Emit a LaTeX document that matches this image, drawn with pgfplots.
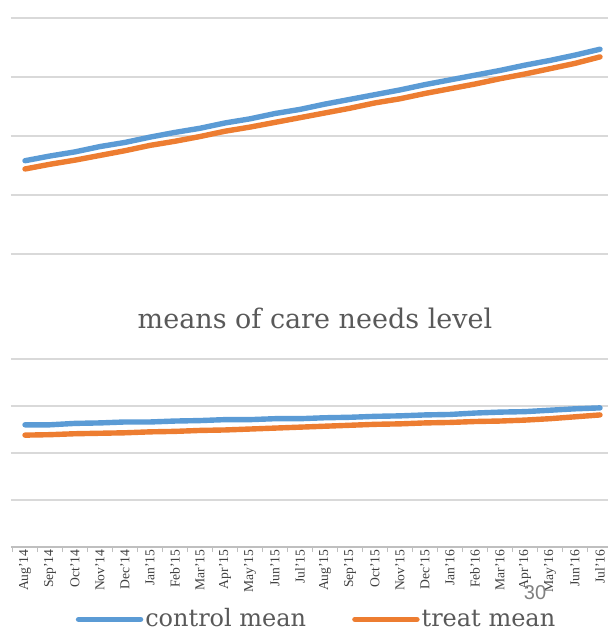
\documentclass[border=0pt]{standalone}
\usepackage{fontspec}
\setmainfont{Liberation Serif}
\newfontfamily\titlefont{DejaVu Serif}
\newfontfamily\numfont{Liberation Sans}
\usepackage{pgfplots}
\pgfplotsset{compat=1.18}
\definecolor{cblue}{HTML}{5B9BD5}
\definecolor{corange}{HTML}{ED7D31}
\definecolor{gridgray}{HTML}{D9D9D9}
\definecolor{txtgray}{HTML}{595959}
\definecolor{lblgray}{HTML}{404040}
\definecolor{axgray}{HTML}{BFBFBF}
\begin{document}
\begin{tikzpicture}
% top panel
\begin{axis}[at={(5.5pt,166.9pt)}, anchor=south west, scale only axis,
  width=300.75pt, height=148.975pt,
  xmin=-0.56, xmax=23.5, ymin=0.25, ymax=5.3,
  axis line style={draw=none},
  ytick={1,2,3,4,5}, yticklabels={}, xtick=\empty,
  major tick length=0pt,
  ymajorgrids, grid style={color=gridgray, line width=0.7pt}]
\addplot[cblue, line width=2.7pt, line cap=round] coordinates {
(0,2.58) (1,2.66) (2,2.73) (3,2.82) (4,2.89) (5,2.98) (6,3.06) (7,3.13)
(8,3.22) (9,3.29) (10,3.38) (11,3.45) (12,3.54) (13,3.62) (14,3.70) (15,3.78)
(16,3.87) (17,3.95) (18,4.03) (19,4.11) (20,4.20) (21,4.28) (22,4.37) (23,4.47)};
\addplot[corange, line width=2.7pt, line cap=round] coordinates {
(0,2.44) (1,2.52) (2,2.59) (3,2.67) (4,2.75) (5,2.84) (6,2.91) (7,2.99)
(8,3.08) (9,3.15) (10,3.23) (11,3.31) (12,3.39) (13,3.47) (14,3.56) (15,3.63)
(16,3.72) (17,3.80) (18,3.88) (19,3.97) (20,4.05) (21,4.14) (22,4.23) (23,4.34)};
\end{axis}
% bottom panel
\begin{axis}[at={(5.5pt,42.5pt)}, anchor=south west, scale only axis,
  width=300.75pt, height=94pt,
  xmin=-0.56, xmax=23.5, ymin=0, ymax=4,
  axis x line*=bottom, axis y line*=left,
  x axis line style={draw=axgray, line width=0.6pt, -},
  y axis line style={draw=none},
  ytick={1,2,3,4}, yticklabels={},
  xtick={0,...,23},
  xticklabels={Aug'14,Sep'14,Oct'14,Nov'14,Dec'14,Jan'15,Feb'15,Mar'15,Apr'15,May'15,Jun'15,Jul'15,Aug'15,Sep'15,Oct'15,Nov'15,Dec'15,Jan'16,Feb'16,Mar'16,Apr'16,May'16,Jun'16,Jul'16},
  x tick label style={rotate=90, anchor=east, font=\fontsize{6.8}{7}\selectfont, text=lblgray, inner sep=1pt},
  major tick length=0pt,
  minor xtick={-0.5,0.5,...,23.5}, minor tick length=2.5pt, tick align=outside,
  minor tick style={draw=axgray, line width=0.5pt},
  ymajorgrids, grid style={color=gridgray, line width=0.7pt},
  legend columns=2,
  legend style={at={(0.508,-0.385)}, anchor=center, draw=none, fill=none,
    font=\titlefont\fontsize{12}{13}\selectfont, text=txtgray,
    nodes={inner sep=1pt},
    /tikz/every even column/.append style={column sep=22pt}},
  legend image code/.code={\draw[#1, line cap=round] (0pt,0pt) -- (31pt,0pt);}]
\addplot[cblue, line width=2.7pt, line cap=round] coordinates {
(0,2.60) (1,2.60) (2,2.63) (3,2.64) (4,2.66) (5,2.66) (6,2.68) (7,2.69)
(8,2.71) (9,2.71) (10,2.73) (11,2.73) (12,2.75) (13,2.76) (14,2.78) (15,2.79)
(16,2.81) (17,2.82) (18,2.85) (19,2.87) (20,2.88) (21,2.91) (22,2.94) (23,2.96)};
\addlegendentry{control mean}
\addplot[corange, line width=2.7pt, line cap=round] coordinates {
(0,2.38) (1,2.39) (2,2.41) (3,2.42) (4,2.43) (5,2.45) (6,2.46) (7,2.48)
(8,2.49) (9,2.51) (10,2.53) (11,2.55) (12,2.57) (13,2.59) (14,2.61) (15,2.62)
(16,2.64) (17,2.65) (18,2.67) (19,2.68) (20,2.70) (21,2.73) (22,2.77) (23,2.81)};
\addlegendentry{treat mean}
\end{axis}
\node[text=txtgray, font=\titlefont\fontsize{13.5}{15}\selectfont] at (157.5pt,157pt) {means of care needs level};
\node[text=gray, font=\numfont\fontsize{10}{12}\selectfont] at (267.5pt,19.5pt) {30};
\pgfresetboundingbox
\path[use as bounding box] (0pt,0pt) rectangle (303.5pt,316pt);
\end{tikzpicture}
\end{document}
